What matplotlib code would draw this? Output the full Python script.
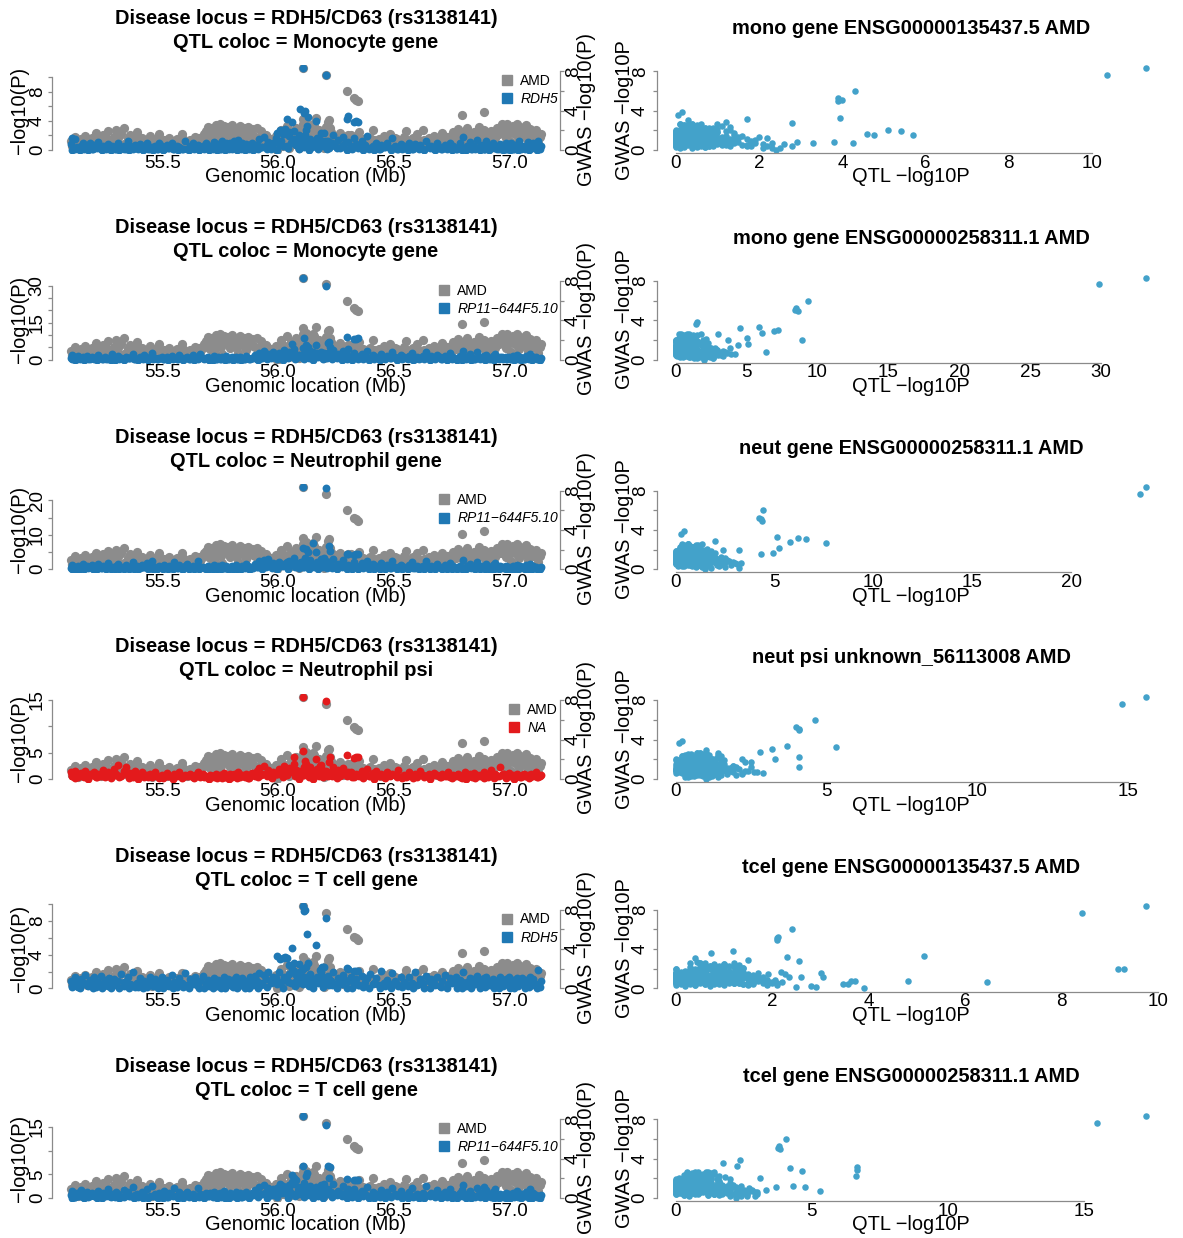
import matplotlib.pyplot as plt
from matplotlib.lines import Line2D

plt.rcParams['font.family'] = ['Liberation Sans', 'DejaVu Sans']

#### data ####
# background SNPs: position (Mb), GWAS -log10P, and QTL -log10P for the 6 rows
bg_pos = [55.105, 55.112, 55.121, 55.130, 55.138, 55.149, 55.158, 55.166, 55.177, 55.186,
          55.195, 55.207, 55.216, 55.224, 55.236, 55.245, 55.253, 55.264, 55.272, 55.283,
          55.291, 55.302, 55.311, 55.320, 55.333, 55.342, 55.351, 55.360, 55.372, 55.381,
          55.393, 55.402, 55.414, 55.423, 55.435, 55.446, 55.455, 55.467, 55.476, 55.488,
          55.497, 55.509, 55.521, 55.530, 55.542, 55.553, 55.565, 55.574, 55.586, 55.597,
          55.609, 55.620, 55.632, 55.641, 55.653, 55.664, 55.676, 55.688, 55.697, 55.708,
          55.716, 55.725, 55.733, 55.741, 55.750, 55.758, 55.767, 55.775, 55.784, 55.792,
          55.801, 55.810, 55.818, 55.827, 55.835, 55.844, 55.853, 55.862, 55.871, 55.880,
          55.890, 55.899, 55.909, 55.918, 55.928, 55.938, 55.948, 55.958, 55.969, 55.979,
          55.990, 56.003, 56.015, 56.027, 56.038, 56.049, 56.058, 56.068, 56.078, 56.088,
          56.098, 56.108, 56.118, 56.128, 56.138, 56.147, 56.157, 56.168, 56.178, 56.188,
          56.197, 56.207, 56.217, 56.228, 56.238, 56.248, 56.259, 56.270, 56.281, 56.292,
          56.304, 56.316, 56.327, 56.339, 56.351, 56.363, 56.375, 56.387, 56.399, 56.411,
          56.423, 56.435, 56.447, 56.459, 56.471, 56.483, 56.495, 56.507, 56.519, 56.531,
          56.543, 56.555, 56.567, 56.579, 56.591, 56.603, 56.615, 56.627, 56.639, 56.651,
          56.663, 56.675, 56.687, 56.699, 56.711, 56.723, 56.735, 56.746, 56.757, 56.768,
          56.779, 56.789, 56.799, 56.809, 56.819, 56.829, 56.839, 56.849, 56.859, 56.869,
          56.879, 56.889, 56.899, 56.909, 56.919, 56.929, 56.939, 56.949, 56.958, 56.967,
          56.976, 56.984, 56.992, 57.000, 57.008, 57.016, 57.024, 57.032, 57.040, 57.048,
          57.056, 57.064, 57.072, 57.080, 57.088, 57.096, 57.104, 57.114, 57.126, 57.138]

bg_gwas = [0.9, 0.4, 1.3, 0.6, 0.2, 1.1, 0.7, 1.4, 0.3, 0.8,
           1.2, 0.5, 1.7, 0.9, 0.3, 1.5, 0.6, 1.9, 1.0, 0.4,
           1.3, 2.0, 0.7, 1.6, 2.2, 0.5, 1.1, 1.5, 0.3, 1.0,
           1.8, 0.6, 1.2, 0.4, 0.9, 1.4, 0.2, 0.8, 1.1, 1.6,
           0.5, 1.0, 0.3, 1.2, 0.7, 0.4, 1.1, 0.6, 1.6, 0.9,
           0.3, 1.0, 0.6, 1.3, 0.5, 0.8, 1.2, 1.9, 2.3, 1.1,
           2.2, 0.9, 2.5, 1.5, 2.6, 0.6, 2.4, 1.8, 2.3, 1.2,
           2.5, 1.4, 2.1, 0.7, 2.4, 1.7, 2.2, 1.0, 2.3, 1.9,
           2.1, 1.3, 2.2, 1.2, 1.9, 0.8, 1.5, 0.5, 1.1, 0.7,
           1.4, 0.9, 2.0, 1.2, 2.4, 1.0, 1.8, 0.6, 2.2, 1.5,
           1.9, 2.6, 1.3, 2.2, 0.8, 1.6, 2.4, 1.1, 2.0, 0.7,
           1.5, 2.3, 1.0, 1.8, 0.6, 1.4, 0.9, 1.7, 0.4, 1.2,
           0.8, 1.5, 0.5, 1.3, 1.8, 0.4, 1.0, 0.7, 1.2, 2.0,
           0.6, 1.1, 0.3, 1.4, 0.8, 1.6, 0.5, 1.2, 0.9, 0.4,
           1.3, 1.9, 0.7, 1.1, 0.4, 1.6, 0.9, 2.0, 0.5, 1.2,
           0.8, 1.4, 0.4, 1.0, 1.7, 0.6, 1.3, 0.9, 1.8, 1.1,
           2.1, 1.5, 0.9, 1.9, 2.2, 1.3, 0.7, 1.8, 1.0, 2.3,
           1.6, 2.0, 0.8, 1.4, 1.9, 0.6, 1.2, 2.2, 1.7, 2.6,
           2.5, 1.2, 2.6, 2.0, 0.8, 2.4, 1.6, 2.6, 1.1, 2.3,
           2.2, 1.5, 2.5, 0.9, 2.1, 1.7, 1.3, 2.0, 0.7, 1.6]

bg_q1 = [0.8, 1.7, 1.5, 0.4, 0.1, 0.6, 1.0, 0.3, 0.5, 0.9,
         0.2, 0.7, 0.4, 1.1, 0.1, 0.5, 0.3, 0.8, 0.2, 0.6,
         0.4, 0.1, 0.9, 0.3, 0.6, 0.2, 1.2, 0.5, 0.1, 0.7,
         0.3, 0.8, 0.2, 0.5, 1.0, 0.1, 0.4, 0.6, 0.2, 0.9,
         0.5, 0.1, 0.7, 0.3, 0.9, 0.2, 0.6, 0.4, 0.1, 1.3,
         0.2, 0.6, 1.0, 0.3, 0.7, 0.1, 0.5, 0.9, 0.3, 0.6,
         0.3, 1.1, 0.2, 0.8, 0.1, 1.3, 0.4, 0.9, 0.5, 1.0,
         0.2, 1.2, 0.6, 1.4, 0.3, 0.9, 0.5, 0.8, 0.4, 0.7,
         1.0, 0.3, 0.7, 1.5, 0.4, 1.8, 0.6, 1.1, 0.2, 0.9,
         1.6, 0.8, 1.3, 2.2, 0.5, 1.9, 1.0, 2.6, 0.7, 1.4,
         1.2, 0.6, 2.0, 0.9, 1.5, 0.4, 1.1, 1.7, 0.8, 2.3,
         0.7, 1.3, 0.5, 1.0, 2.1, 0.6, 1.4, 0.3, 1.8, 0.9,
         1.1, 0.5, 1.6, 0.8, 0.4, 1.3, 0.7, 1.9, 0.3, 0.6,
         0.9, 0.2, 0.7, 0.4, 1.0, 0.3, 1.7, 0.5, 0.2, 0.8,
         0.3, 0.6, 1.0, 0.2, 0.8, 0.4, 0.7, 0.1, 1.2, 0.5,
         0.6, 0.2, 0.9, 0.4, 0.1, 0.7, 0.3, 1.0, 0.5, 0.2,
         0.4, 0.9, 1.8, 0.3, 0.6, 1.1, 0.2, 0.5, 1.4, 0.3,
         0.7, 0.2, 1.2, 0.5, 0.3, 0.9, 0.6, 0.2, 0.8, 0.4,
         0.3, 0.9, 0.1, 0.6, 1.0, 0.2, 0.7, 0.4, 1.2, 0.5,
         0.6, 0.3, 0.5, 1.1, 0.8, 0.4, 1.0, 0.7, 1.3, 0.5]

bg_q2 = [0.5, 1.8, 0.9, 0.2, 1.3, 0.6, 1.1, 0.3, 1.6, 0.4,
         1.0, 0.3, 0.7, 1.9, 0.5, 0.2, 1.2, 0.4, 0.8, 2.4,
         0.6, 0.3, 1.4, 0.8, 0.2, 1.0, 0.5, 0.7, 2.1, 0.4,
         0.2, 1.1, 0.6, 1.7, 0.4, 0.9, 2.6, 0.5, 0.3, 0.8,
         1.2, 0.4, 0.9, 0.2, 1.5, 0.7, 0.3, 2.0, 0.6, 0.5,
         1.0, 0.3, 1.8, 0.6, 0.4, 2.3, 0.8, 0.5, 1.1, 0.2,
         0.7, 1.3, 0.4, 0.9, 0.2, 1.1, 0.6, 1.4, 0.3, 0.8,
         1.2, 0.5, 0.9, 0.3, 1.0, 0.6, 0.4, 1.5, 0.7, 0.2,
         0.6, 1.9, 0.4, 2.8, 0.8, 3.4, 1.2, 2.2, 0.5, 3.0,
         1.4, 2.5, 0.9, 3.8, 1.1, 2.9, 1.6, 4.2, 0.7, 2.0,
         1.5, 0.8, 2.3, 1.1, 3.5, 1.9, 0.6, 2.7, 1.3, 3.1,
         2.0, 1.0, 2.6, 1.4, 3.9, 0.9, 2.2, 1.7, 3.3, 1.2,
         1.6, 0.9, 2.8, 1.3, 0.7, 2.1, 1.5, 3.6, 0.8, 1.9,
         1.2, 0.4, 2.4, 0.8, 1.6, 0.5, 3.2, 1.0, 0.6, 1.8,
         0.9, 0.5, 1.5, 2.7, 0.3, 1.1, 0.6, 1.3, 3.0, 0.7,
         1.4, 0.6, 2.0, 0.9, 0.3, 1.6, 0.7, 2.5, 1.0, 0.4,
         0.8, 1.3, 3.3, 0.5, 1.1, 2.2, 0.7, 0.4, 2.9, 1.0,
         1.2, 0.5, 1.9, 0.8, 0.3, 1.5, 2.4, 0.6, 1.1, 0.9,
         0.6, 1.2, 0.4, 0.9, 0.3, 1.4, 0.7, 1.8, 0.5, 1.0,
         0.8, 0.4, 1.5, 0.7, 2.1, 0.5, 1.2, 0.9, 0.3, 0.6]

bg_q3 = [0.4, 1.2, 0.7, 0.2, 1.0, 0.5, 1.6, 0.3, 0.8, 0.6,
         1.1, 0.2, 0.6, 1.4, 0.4, 0.9, 0.3, 1.8, 0.5, 0.7,
         0.3, 0.9, 1.5, 0.5, 0.2, 1.2, 0.7, 0.4, 2.2, 0.6,
         0.8, 0.3, 1.1, 0.6, 1.9, 0.4, 2.5, 0.7, 0.2, 1.0,
         0.6, 1.3, 0.3, 0.9, 0.5, 2.1, 0.4, 1.2, 0.2, 0.8,
         1.5, 0.4, 0.9, 0.3, 2.4, 0.7, 0.5, 0.2, 1.0, 0.6,
         0.5, 1.1, 0.3, 0.8, 0.6, 1.3, 0.4, 0.9, 0.2, 0.7,
         1.0, 0.4, 1.2, 0.6, 0.3, 0.9, 0.5, 1.4, 0.8, 0.2,
         0.7, 1.6, 0.5, 2.3, 0.9, 2.7, 0.6, 3.1, 1.2, 1.9,
         1.3, 2.0, 0.8, 1.5, 1.1, 2.4, 1.7, 3.3, 0.9, 1.6,
         1.0, 0.6, 1.8, 0.9, 2.6, 1.4, 0.7, 2.0, 1.2, 2.9,
         1.5, 0.8, 2.2, 1.1, 3.0, 0.7, 1.6, 1.3, 2.8, 0.9,
         1.2, 0.6, 2.1, 0.9, 0.5, 1.7, 1.0, 2.5, 0.7, 1.4,
         0.8, 0.3, 1.7, 0.6, 1.2, 0.4, 2.3, 0.7, 0.5, 1.3,
         0.6, 0.4, 1.1, 2.0, 0.3, 0.8, 0.5, 1.0, 2.4, 0.6,
         1.0, 0.5, 1.5, 0.7, 0.2, 1.2, 0.6, 1.9, 0.8, 0.3,
         0.6, 1.0, 2.6, 0.4, 0.8, 1.6, 0.5, 0.3, 2.1, 0.7,
         0.9, 0.4, 1.4, 0.6, 0.2, 1.1, 1.8, 0.5, 0.8, 0.6,
         0.5, 0.9, 0.3, 0.7, 0.2, 1.0, 0.6, 1.3, 0.4, 0.8,
         0.6, 0.3, 1.1, 0.5, 1.6, 0.4, 0.9, 0.7, 0.2, 0.5]

bg_q4 = [1.2, 0.5, 1.5, 0.8, 0.3, 1.1, 0.6, 1.4, 0.4, 0.9,
         0.7, 1.3, 0.4, 1.0, 0.6, 1.6, 0.3, 1.2, 0.8, 0.5,
         1.9, 1.0, 2.7, 0.6, 1.4, 2.2, 0.8, 1.1, 0.4, 1.5,
         0.9, 0.5, 1.2, 0.3, 0.8, 1.0, 0.4, 1.3, 0.6, 0.2,
         0.8, 0.4, 1.1, 0.6, 0.3, 0.9, 0.5, 1.2, 0.2, 0.7,
         0.5, 1.0, 0.3, 0.7, 1.3, 0.4, 0.9, 0.6, 0.2, 0.8,
         0.6, 0.3, 1.0, 0.5, 0.8, 0.2, 1.1, 0.4, 0.7, 0.9,
         0.4, 0.9, 0.6, 1.2, 0.3, 0.7, 0.5, 1.0, 0.2, 0.8,
         1.1, 0.5, 1.4, 2.0, 0.7, 2.4, 0.9, 1.7, 0.4, 1.2,
         0.9, 1.8, 1.3, 2.5, 0.8, 2.1, 1.5, 2.9, 1.0, 1.4,
         1.2, 0.7, 1.9, 1.0, 2.3, 0.8, 1.4, 1.8, 0.6, 2.6,
         0.9, 1.5, 0.6, 1.2, 2.2, 0.8, 1.6, 0.5, 2.0, 1.1,
         0.7, 1.2, 0.4, 1.0, 0.6, 1.5, 0.8, 1.9, 0.5, 1.1,
         1.4, 0.6, 1.0, 0.3, 1.2, 0.5, 0.9, 0.7, 1.6, 0.4,
         0.8, 0.3, 1.2, 0.6, 1.0, 0.4, 1.4, 0.7, 0.5, 0.9,
         0.5, 1.1, 0.7, 0.3, 0.9, 0.6, 1.3, 0.4, 0.8, 0.6,
         1.0, 0.4, 0.8, 1.3, 0.6, 0.9, 0.3, 1.1, 0.7, 0.5,
         0.6, 1.2, 0.9, 0.4, 1.6, 0.7, 1.0, 0.5, 2.3, 0.8,
         0.9, 0.4, 0.7, 1.1, 0.5, 0.8, 0.3, 1.0, 0.6, 0.4,
         0.7, 1.0, 0.5, 0.8, 0.3, 0.9, 0.6, 1.2, 0.4, 0.8]

bg_q5 = [0.9, 0.3, 1.4, 0.6, 0.2, 1.1, 0.7, 1.6, 0.4, 1.0,
         0.5, 1.3, 0.2, 0.8, 1.5, 0.4, 1.0, 0.3, 1.2, 0.6,
         1.1, 0.4, 0.9, 1.7, 0.3, 0.7, 1.3, 0.5, 1.9, 0.2,
         0.6, 1.2, 0.4, 0.9, 0.2, 1.4, 0.7, 1.1, 0.3, 0.8,
         1.3, 0.5, 1.0, 0.3, 1.6, 0.8, 0.2, 1.2, 0.6, 1.8,
         0.4, 1.1, 0.7, 1.4, 0.3, 0.9, 1.5, 0.6, 1.0, 0.4,
         0.8, 1.2, 0.5, 1.0, 0.3, 0.9, 1.3, 0.6, 1.1, 0.4,
         1.0, 0.6, 1.4, 0.3, 0.8, 1.2, 0.5, 0.9, 0.7, 1.3,
         0.6, 1.5, 0.9, 1.8, 0.4, 1.6, 1.1, 2.0, 0.7, 1.3,
         1.2, 1.9, 0.8, 1.4, 1.0, 1.7, 0.6, 2.1, 0.9, 1.5,
         1.0, 0.5, 1.3, 0.8, 1.7, 1.1, 0.6, 1.4, 0.9, 2.0,
         1.4, 0.7, 1.1, 0.9, 1.9, 0.5, 1.2, 0.8, 1.6, 1.0,
         0.9, 1.3, 0.6, 1.1, 0.4, 1.5, 0.8, 1.2, 1.7, 0.5,
         1.2, 0.4, 2.1, 0.7, 1.0, 0.5, 1.8, 0.9, 0.3, 1.4,
         0.8, 0.5, 1.3, 0.6, 1.9, 0.4, 1.1, 0.7, 1.5, 0.9,
         1.1, 0.6, 1.4, 0.3, 0.9, 1.6, 0.5, 1.2, 0.8, 1.3,
         0.7, 1.0, 1.9, 0.5, 0.8, 1.2, 0.4, 1.1, 1.5, 0.6,
         1.0, 0.5, 1.3, 0.8, 0.4, 1.1, 0.7, 0.9, 1.4, 0.6,
         0.8, 1.1, 0.5, 1.3, 0.7, 1.0, 0.4, 1.2, 0.6, 0.9,
         1.2, 0.6, 1.0, 0.4, 1.4, 0.8, 1.1, 0.5, 2.2, 0.9]

bg_q6 = [0.7, 1.4, 0.3, 1.0, 0.5, 1.7, 0.2, 0.9, 1.2, 0.4,
         1.1, 0.4, 0.8, 1.5, 0.3, 1.0, 0.6, 2.0, 0.5, 0.8,
         0.5, 1.2, 0.9, 0.3, 1.6, 0.7, 1.3, 0.4, 2.3, 0.6,
         0.9, 0.4, 1.3, 0.7, 1.9, 0.5, 2.6, 0.8, 0.3, 1.1,
         0.6, 1.4, 0.3, 1.0, 0.7, 2.1, 0.5, 1.2, 0.4, 0.9,
         1.2, 0.5, 0.9, 0.3, 2.2, 0.8, 0.6, 1.1, 0.4, 1.0,
         0.6, 1.3, 0.4, 0.9, 1.1, 0.5, 1.4, 0.7, 0.3, 1.0,
         0.8, 0.4, 1.2, 0.6, 1.0, 0.3, 0.9, 1.3, 0.5, 0.7,
         1.0, 1.7, 0.6, 2.4, 0.9, 2.8, 1.3, 2.2, 0.7, 1.8,
         1.5, 2.3, 1.0, 2.0, 1.3, 2.7, 1.1, 3.0, 0.8, 1.6,
         1.3, 0.8, 2.1, 1.0, 2.5, 1.6, 0.7, 2.2, 1.1, 2.8,
         1.6, 0.9, 2.0, 1.2, 2.9, 0.8, 1.5, 1.1, 2.6, 1.0,
         1.1, 0.7, 1.9, 1.0, 0.6, 1.4, 0.9, 2.4, 0.5, 1.3,
         0.9, 0.4, 1.6, 0.7, 1.2, 0.5, 2.2, 0.8, 0.6, 1.4,
         0.7, 0.5, 1.2, 2.1, 0.4, 0.9, 0.6, 1.1, 2.5, 0.7,
         1.0, 0.6, 1.7, 0.8, 0.3, 1.3, 0.7, 2.0, 0.9, 0.4,
         0.7, 1.1, 2.7, 0.5, 0.9, 1.5, 0.6, 0.4, 2.2, 0.8,
         1.0, 0.5, 1.6, 0.7, 0.3, 1.2, 1.9, 0.6, 0.9, 0.7,
         0.6, 1.0, 0.4, 0.8, 0.3, 1.1, 0.7, 1.4, 0.5, 0.9,
         0.8, 0.4, 1.3, 0.6, 1.8, 0.5, 1.0, 0.7, 0.3, 0.6]

# second layer of background SNPs (mostly near-zero QTL signal)
bg2_pos = [55.108, 55.125, 55.143, 55.161, 55.181, 55.201, 55.219, 55.240, 55.258, 55.277,
           55.296, 55.315, 55.337, 55.356, 55.377, 55.397, 55.418, 55.440, 55.461, 55.482,
           55.503, 55.525, 55.547, 55.569, 55.591, 55.614, 55.636, 55.658, 55.681, 55.703,
           55.721, 55.737, 55.754, 55.771, 55.788, 55.805, 55.822, 55.840, 55.857, 55.875,
           55.894, 55.913, 55.933, 55.953, 55.974, 55.996, 56.021, 56.044, 56.073, 56.093,
           56.113, 56.133, 56.152, 56.173, 56.193, 56.212, 56.233, 56.254, 56.276, 56.298,
           56.321, 56.345, 56.369, 56.393, 56.417, 56.441, 56.465, 56.489, 56.513, 56.537,
           56.561, 56.585, 56.609, 56.633, 56.657, 56.681, 56.705, 56.729, 56.752, 56.774,
           56.794, 56.814, 56.834, 56.854, 56.874, 56.894, 56.914, 56.934, 56.954, 56.971,
           56.988, 57.004, 57.020, 57.036, 57.052, 57.068, 57.084, 57.100, 57.118, 57.133]

bg2_gwas = [0.5, 0.9, 0.3, 1.0, 0.6, 0.8, 1.1, 0.4, 1.2, 0.7,
            0.9, 1.4, 0.6, 1.1, 0.8, 1.3, 0.5, 1.0, 0.7, 1.2,
            0.8, 0.5, 0.9, 0.4, 1.1, 0.6, 0.9, 1.2, 1.6, 1.9,
            1.6, 1.9, 1.3, 2.0, 1.5, 1.8, 1.2, 1.9, 1.4, 1.7,
            1.4, 1.1, 0.9, 1.3, 0.7, 1.2, 1.5, 1.0, 1.3, 1.1,
            1.2, 1.6, 0.9, 1.4, 1.1, 1.3, 0.8, 1.2, 0.9, 1.0,
            0.9, 0.6, 1.1, 0.8, 1.0, 0.5, 0.9, 0.7, 1.1, 0.8,
            0.9, 1.2, 0.6, 1.0, 0.8, 1.1, 0.7, 1.3, 1.0, 1.2,
            1.3, 0.9, 1.4, 1.1, 1.5, 1.2, 1.0, 1.4, 1.6, 1.8,
            1.9, 1.7, 2.0, 1.6, 1.8, 1.5, 1.7, 1.4, 1.2, 1.3]

bg2_q1 = [0.0, 0.1, 0.0, 0.2, 0.0, 0.1, 0.3, 0.0, 0.1, 0.0,
          0.2, 0.0, 0.1, 0.0, 0.3, 0.1, 0.0, 0.2, 0.0, 0.1,
          0.0, 0.3, 0.1, 0.0, 0.2, 0.0, 0.1, 0.0, 0.2, 0.0,
          0.1, 0.0, 0.2, 0.0, 0.1, 0.3, 0.0, 0.1, 0.0, 0.2,
          0.0, 0.2, 0.4, 0.1, 0.6, 0.0, 0.5, 0.3, 0.8, 0.2,
          0.4, 0.0, 0.7, 0.2, 0.5, 0.1, 0.9, 0.3, 0.6, 0.0,
          0.1, 0.3, 0.0, 0.2, 0.0, 0.1, 0.4, 0.0, 0.2, 0.1,
          0.0, 0.2, 0.1, 0.0, 0.3, 0.0, 0.1, 0.2, 0.0, 0.1,
          0.3, 0.0, 0.1, 0.2, 0.0, 0.1, 0.0, 0.3, 0.1, 0.0,
          0.2, 0.0, 0.1, 0.0, 0.2, 0.1, 0.0, 0.3, 0.0, 0.1]

bg2_q2 = [0.1, 0.0, 0.3, 0.0, 0.2, 0.5, 0.0, 0.1, 0.4, 0.0,
          0.0, 0.2, 0.0, 0.6, 0.1, 0.0, 0.3, 0.0, 0.2, 0.1,
          0.3, 0.0, 0.1, 0.4, 0.0, 0.2, 0.0, 0.5, 0.1, 0.0,
          0.0, 0.3, 0.1, 0.0, 0.4, 0.0, 0.2, 0.0, 0.1, 0.3,
          0.5, 0.0, 0.8, 0.2, 1.0, 0.4, 0.0, 0.7, 0.3, 0.9,
          0.2, 0.6, 0.0, 0.9, 0.3, 0.7, 0.1, 0.5, 0.0, 0.4,
          0.0, 0.2, 0.4, 0.0, 0.3, 0.0, 0.1, 0.5, 0.0, 0.2,
          0.3, 0.0, 0.2, 0.4, 0.0, 0.1, 0.3, 0.0, 0.2, 0.0,
          0.0, 0.4, 0.0, 0.1, 0.3, 0.0, 0.2, 0.0, 0.4, 0.1,
          0.1, 0.3, 0.0, 0.2, 0.0, 0.4, 0.1, 0.0, 0.2, 0.0]

bg2_q3 = [0.0, 0.2, 0.1, 0.0, 0.4, 0.0, 0.1, 0.3, 0.0, 0.2,
          0.1, 0.0, 0.3, 0.0, 0.2, 0.0, 0.5, 0.1, 0.0, 0.3,
          0.0, 0.1, 0.0, 0.3, 0.1, 0.0, 0.2, 0.0, 0.4, 0.1,
          0.2, 0.0, 0.1, 0.3, 0.0, 0.2, 0.0, 0.1, 0.3, 0.0,
          0.3, 0.6, 0.1, 0.8, 0.4, 0.0, 0.9, 0.2, 0.6, 0.3,
          0.5, 0.2, 0.8, 0.0, 0.6, 0.3, 0.4, 0.0, 0.7, 0.2,
          0.1, 0.0, 0.3, 0.1, 0.0, 0.2, 0.0, 0.4, 0.1, 0.0,
          0.0, 0.3, 0.0, 0.1, 0.2, 0.0, 0.4, 0.0, 0.1, 0.2,
          0.2, 0.0, 0.3, 0.0, 0.1, 0.2, 0.0, 0.1, 0.0, 0.3,
          0.0, 0.1, 0.2, 0.0, 0.3, 0.0, 0.1, 0.2, 0.0, 0.1]

bg2_q4 = [0.6, 0.2, 0.9, 0.4, 0.0, 0.7, 0.3, 1.0, 0.5, 0.1,
          0.8, 0.4, 1.1, 0.2, 0.6, 0.0, 0.9, 0.3, 0.7, 0.5,
          0.2, 0.6, 0.0, 0.8, 0.3, 0.5, 0.1, 0.7, 0.4, 0.0,
          0.5, 0.1, 0.7, 0.3, 0.0, 0.6, 0.2, 0.8, 0.4, 0.1,
          0.7, 0.3, 1.0, 0.5, 0.2, 0.9, 0.4, 1.1, 0.6, 0.0,
          0.8, 0.4, 0.0, 0.7, 0.3, 1.0, 0.5, 0.2, 0.9, 0.6,
          0.3, 0.7, 0.1, 0.5, 0.0, 0.6, 0.2, 0.8, 0.4, 0.1,
          0.6, 0.2, 0.9, 0.4, 0.0, 0.7, 0.3, 0.5, 0.1, 0.8,
          0.4, 0.0, 0.6, 0.2, 0.8, 0.3, 0.7, 0.1, 0.5, 0.9,
          0.2, 0.6, 0.0, 0.7, 0.3, 0.5, 0.1, 0.8, 0.4, 0.6]

bg2_q5 = [0.2, 0.5, 0.0, 0.7, 0.3, 0.0, 0.6, 0.1, 0.4, 0.0,
          0.5, 0.1, 0.8, 0.0, 0.4, 0.2, 0.0, 0.6, 0.3, 0.0,
          0.1, 0.4, 0.0, 0.6, 0.2, 0.0, 0.5, 0.1, 0.0, 0.3,
          0.0, 0.3, 0.1, 0.0, 0.5, 0.2, 0.0, 0.4, 0.1, 0.0,
          0.4, 0.0, 0.7, 0.2, 0.9, 0.5, 0.1, 0.8, 0.3, 0.6,
          0.7, 0.3, 0.0, 0.6, 0.2, 0.9, 0.4, 0.0, 0.5, 0.1,
          0.0, 0.4, 0.2, 0.0, 0.6, 0.1, 0.3, 0.0, 0.5, 0.2,
          0.3, 0.0, 0.5, 0.1, 0.0, 0.4, 0.2, 0.0, 0.6, 0.1,
          0.0, 0.3, 0.1, 0.5, 0.0, 0.2, 0.4, 0.0, 0.1, 0.3,
          0.5, 0.1, 0.0, 0.3, 0.6, 0.0, 0.2, 0.4, 0.0, 0.2]

bg2_q6 = [0.0, 0.3, 0.5, 0.0, 0.2, 0.6, 0.1, 0.0, 0.4, 0.2,
          0.3, 0.0, 0.2, 0.5, 0.0, 0.3, 0.1, 0.0, 0.4, 0.0,
          0.0, 0.2, 0.4, 0.0, 0.1, 0.3, 0.0, 0.2, 0.0, 0.5,
          0.2, 0.0, 0.3, 0.1, 0.0, 0.4, 0.0, 0.2, 0.5, 0.0,
          0.6, 0.2, 0.9, 0.0, 0.7, 0.3, 1.0, 0.1, 0.5, 0.8,
          0.3, 0.7, 0.1, 0.5, 0.0, 0.8, 0.2, 0.6, 0.4, 0.0,
          0.2, 0.0, 0.4, 0.1, 0.0, 0.3, 0.0, 0.2, 0.5, 0.0,
          0.0, 0.3, 0.1, 0.0, 0.4, 0.2, 0.0, 0.3, 0.1, 0.0,
          0.4, 0.1, 0.0, 0.3, 0.2, 0.0, 0.5, 0.1, 0.0, 0.2,
          0.1, 0.0, 0.3, 0.2, 0.0, 0.4, 0.1, 0.0, 0.3, 0.0]

# SNPs in the peak region and other stand-out points
sp_pos = [56.110, 56.210, 56.300, 56.328, 56.336, 56.346, 56.795, 56.890, 56.107, 56.165, 56.222,
          56.215, 56.225, 56.120, 56.150, 56.113, 56.116, 56.130, 56.305, 56.095, 56.070,
          56.060, 56.080, 56.125, 56.063, 56.040, 56.030, 56.010, 56.020, 55.995, 56.050,
          56.090, 56.100, 56.180, 56.190, 56.200]
sp_gwas = [8.35, 7.65, 6.0, 5.25, 5.1, 4.95, 3.6, 3.85, 3.2, 3.3, 3.05,
           2.9, 2.2, 2.75, 2.65, 2.0, 1.97, 1.6, 1.5, 1.5, 1.2,
           1.15, 1.1, 0.7, 0.78, 0.75, 0.78, 0.41, 0.44, 0.0, 0.24,
           0.17, 0.85, 1.7, 1.12, 0.17]
sp_q1 = [11.3, 10.36, 4.3, 3.9, 4.0, 3.9, 0.05, 0.15, 1.7, 3.95, 0.3,
         1.2, 0.8, 2.8, 1.0, 5.1, 5.4, 4.6, 4.75, 5.7, 1.5,
         1.2, 1.0, 3.3, 3.8, 4.25, 2.9, 2.8, 2.2, 2.4, 2.5,
         2.1, 1.8, 1.4, 1.3, 2.3]
sp_q2 = [33.2, 29.9, 9.3, 8.5, 8.4, 8.6, 1.4, 1.5, 4.5, 5.9, 7.2,
         6.9, 5.0, 6.1, 3.0, 8.9, 3.7, 5.1, 4.4, 1.8, 2.5,
         2.2, 2.0, 2.8, 6.4, 2.5, 1.9, 1.7, 1.5, 2.0, 1.8,
         1.5, 1.6, 2.3, 1.9, 2.6]
sp_q3 = [23.8, 23.5, 4.4, 4.2, 4.3, 4.35, 0.25, 0.4, 6.2, 5.1, 6.6,
         2.0, 5.2, 5.8, 7.6, 2.4, 3.2, 4.9, 4.3, 1.5, 1.9,
         1.7, 1.5, 2.3, 2.1, 2.0, 1.6, 1.2, 1.1, 1.5, 1.3,
         1.8, 2.2, 2.0, 2.5, 3.2]
sp_q4 = [15.6, 14.8, 4.6, 4.0, 4.1, 4.1, 0.1, 0.2, 5.3, 3.7, 3.2,
         1.0, 4.1, 2.8, 1.4, 2.2, 3.3, 1.0, 1.2, 0.9, 4.1,
         2.0, 1.6, 1.5, 1.8, 1.5, 1.2, 1.0, 0.9, 1.0, 1.2,
         1.1, 1.4, 2.5, 1.7, 1.4]
sp_q5 = [9.75, 8.42, 2.40, 2.12, 2.10, 2.09, 0.72, 1.18, 2.3, 5.15, 0.39,
         1.5, 1.0, 2.56, 0.43, 9.16, 9.3, 3.0, 2.26, 1.91, 3.05,
         2.34, 1.6, 6.46, 4.82, 3.64, 3.72, 3.47, 3.56, 3.9, 2.8,
         2.9, 2.06, 2.18, 2.6, 2.5]
sp_q6 = [17.3, 15.5, 4.05, 3.8, 3.77, 3.83, 1.74, 2.35, 6.67, 2.24, 4.2,
         6.67, 6.62, 4.64, 1.2, 3.1, 1.5, 1.2, 2.0, 1.3, 4.3,
         4.75, 3.7, 5.3, 3.33, 2.0, 1.8, 3.0, 2.6, 2.2, 2.0,
         2.4, 1.9, 1.6, 1.4, 2.9]

locus_title = "Disease locus = RDH5/CD63 (rs3138141)"
coloc_names = ["Monocyte gene", "Monocyte gene", "Neutrophil gene",
               "Neutrophil psi", "T cell gene", "T cell gene"]
gene_names = ["RDH5", "RP11\u2212644F5.10", "RP11\u2212644F5.10",
              "NA", "RDH5", "RP11\u2212644F5.10"]
scatter_titles = ["mono gene ENSG00000135437.5 AMD", "mono gene ENSG00000258311.1 AMD",
                  "neut gene ENSG00000258311.1 AMD", "neut psi unknown_56113008 AMD",
                  "tcel gene ENSG00000135437.5 AMD", "tcel gene ENSG00000258311.1 AMD"]
qtl_colors = ["#1F78B4", "#1F78B4", "#1F78B4", "#E31A1C", "#1F78B4", "#1F78B4"]
left_ticks = [[0, 2, 4, 6, 8, 10], [0, 5, 10, 15, 20, 25, 30], [0, 5, 10, 15, 20],
              [0, 5, 10, 15], [0, 2, 4, 6, 8, 10], [0, 5, 10, 15]]
left_shown = [[0, 4, 8], [0, 15, 30], [0, 10, 20], [0, 5, 15], [0, 4, 8], [0, 5, 15]]
scat_ticks = [[0, 2, 4, 6, 8, 10], [0, 5, 10, 15, 20, 25, 30], [0, 5, 10, 15, 20],
              [0, 5, 10, 15], [0, 2, 4, 6, 8, 10], [0, 5, 10, 15]]
gwas_ticks = [0, 2, 4, 6, 8]
gwas_shown = [0, 4, 8]
mb_ticks = [55.5, 56.0, 56.5, 57.0]

#### combine ####
pos = bg_pos + bg2_pos + sp_pos
gwas = bg_gwas + bg2_gwas + sp_gwas
qtl = [bg_q1 + bg2_q1 + sp_q1, bg_q2 + bg2_q2 + sp_q2, bg_q3 + bg2_q3 + sp_q3,
       bg_q4 + bg2_q4 + sp_q4, bg_q5 + bg2_q5 + sp_q5, bg_q6 + bg2_q6 + sp_q6]

#### figure ####
W, H = 1183, 1238
fig = plt.figure(figsize=(W / 100, H / 100), dpi=100)
AX_COL = '#8A8A8A'
GREY = '#8C8C8C'
SCAT = '#43A2CA'
MINUS = '\u2212'
TICK_FS = 13.5


def rect(x0, x1, yt, yb):
    return [x0 / W, 1 - yb / H, (x1 - x0) / W, (yb - yt) / H]


def ftext(x, y, s, **kw):
    fig.text(x / W, 1 - y / H, s, **kw)


def padded(lo, hi):
    d = (hi - lo) * 0.04
    return lo - d, hi + d


def clean(ax):
    ax.set_facecolor('none')
    for s in ax.spines.values():
        s.set_visible(False)


def yaxis(ax, side, ticks, shown, pad):
    sp = ax.spines[side]
    sp.set_visible(True)
    sp.set_bounds(ticks[0], ticks[-1])
    sp.set_color(AX_COL)
    sp.set_linewidth(0.9)
    if side == 'right':
        ax.yaxis.tick_right()
    else:
        ax.yaxis.tick_left()
    ax.set_yticks(ticks)
    ax.set_yticklabels([str(t) if t in shown else '' for t in ticks],
                       rotation=90, va='center')
    ax.tick_params(axis='y', length=3, width=0.9, color=AX_COL, pad=pad,
                   labelsize=TICK_FS)


gmax = max(gwas)
xlo, xhi = padded(min(pos), max(pos))

for r in range(6):
    y0 = 150 + 209.6 * r
    yt, yb = y0 - 82 * 1.04, y0 + 82 * 0.04
    q = qtl[r]
    qmax = max(q)

    # left panel: AMD (grey, right axis) and QTL (coloured, left axis)
    axg = fig.add_axes(rect(52, 560, yt, yb))
    clean(axg)
    axg.scatter(pos, gwas, s=44, c=GREY, linewidths=0)
    axg.set_xlim(xlo, xhi)
    axg.set_ylim(-0.04 * gmax, 1.04 * gmax)
    yaxis(axg, 'right', gwas_ticks, gwas_shown, 0.5)
    axg.set_xticks(mb_ticks)
    axg.set_xticklabels(["%.1f" % t for t in mb_ticks])
    axg.tick_params(axis='x', length=0, pad=1.0, labelsize=TICK_FS)

    axq = fig.add_axes(rect(52, 560, yt, yb))
    clean(axq)
    axq.scatter(pos, q, s=32, c=qtl_colors[r], linewidths=0)
    axq.set_xlim(xlo, xhi)
    axq.set_ylim(-0.04 * qmax, 1.04 * qmax)
    axq.set_xticks([])
    yaxis(axq, 'left', left_ticks[r], left_shown[r], 1.5)

    handles = [Line2D([], [], marker='s', linestyle='', markersize=7, color=GREY),
               Line2D([], [], marker='s', linestyle='', markersize=7, color=qtl_colors[r])]
    leg = axq.legend(handles, ["AMD", gene_names[r]], loc='upper right',
                     bbox_to_anchor=(558 / W, 1 - (y0 - 76) / H),
                     bbox_transform=fig.transFigure, frameon=False, fontsize=10,
                     borderpad=0, handlelength=0.9, handletextpad=0.5,
                     labelspacing=0.3, borderaxespad=0)
    leg.get_texts()[1].set_style('italic')

    # right panel: GWAS vs QTL
    axs = fig.add_axes(rect(657, 1165, yt, yb))
    clean(axs)
    axs.scatter(q, gwas, s=22, c=SCAT, linewidths=0)
    axs.set_xlim(-0.04 * qmax, 1.04 * qmax)
    axs.set_ylim(-0.04 * gmax, 1.04 * gmax)
    yaxis(axs, 'left', gwas_ticks, gwas_shown, 3)
    bt = axs.spines['bottom']
    bt.set_visible(True)
    bt.set_bounds(scat_ticks[r][0], scat_ticks[r][-1])
    bt.set_color(AX_COL)
    bt.set_linewidth(0.9)
    axs.set_xticks(scat_ticks[r])
    axs.set_xticklabels([str(t) for t in scat_ticks[r]])
    axs.tick_params(axis='x', length=0, pad=1.0, labelsize=TICK_FS)

    # text
    ftext(306, y0 - 132, locus_title, ha='center', va='center',
          fontsize=14.4, fontweight='bold')
    ftext(306, y0 - 108, "QTL coloc = " + coloc_names[r], ha='center', va='center',
          fontsize=14.4, fontweight='bold')
    ftext(911, y0 - 121, scatter_titles[r], ha='center', va='center',
          fontsize=14.4, fontweight='bold')
    ftext(306, y0 + 27, "Genomic location (Mb)", ha='center', va='center', fontsize=14.4)
    ftext(911, y0 + 27, "QTL " + MINUS + "log10P", ha='center', va='center', fontsize=14.4)
    ftext(20, y0 - 40, MINUS + "log10(P)", ha='center', va='center', rotation=90,
          fontsize=14.4)
    ftext(587, y0 - 41, "GWAS " + MINUS + "log10(P)", ha='center', va='center',
          rotation=90, fontsize=14.4)
    ftext(625, y0 - 40, "GWAS " + MINUS + "log10P", ha='center', va='center',
          rotation=90, fontsize=14.4)

fig.savefig("out.png", dpi=100, facecolor='white')
